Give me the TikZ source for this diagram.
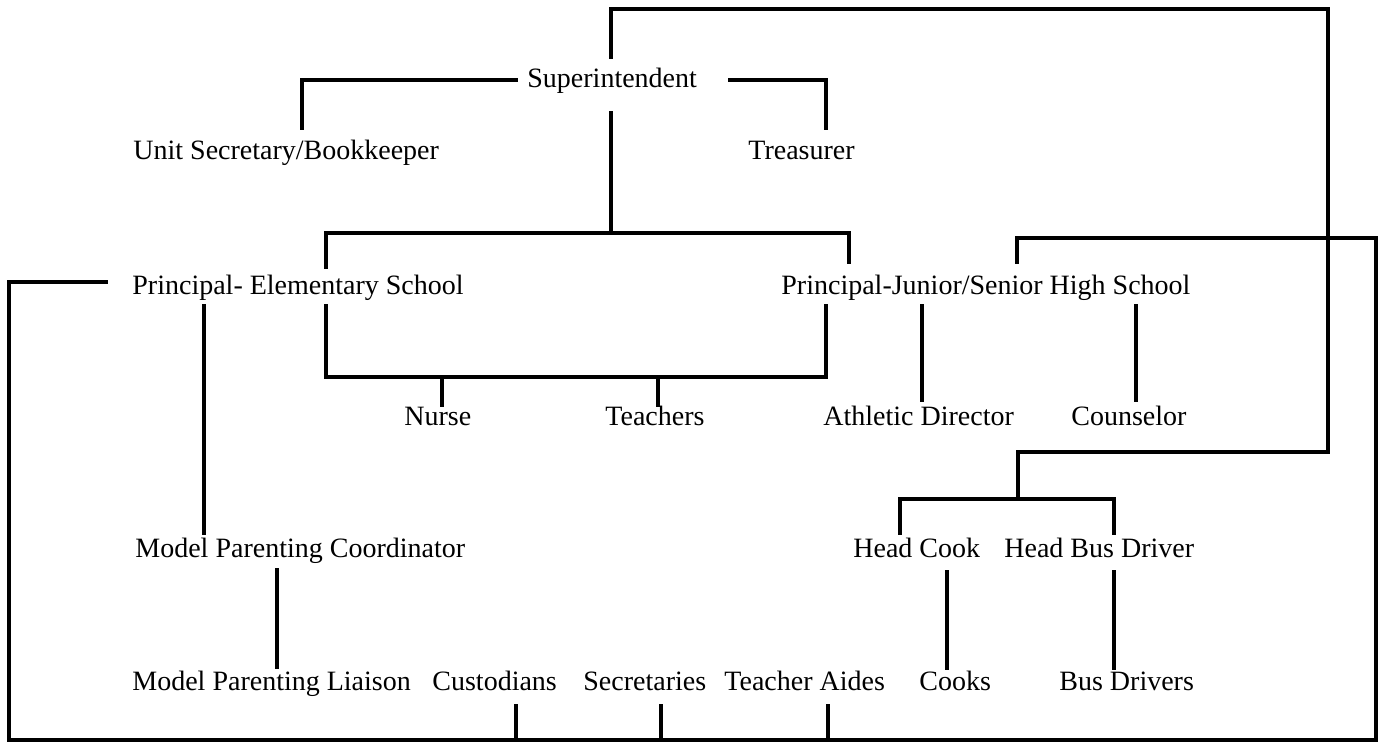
\documentclass[tikz,border=0pt]{standalone}
\usepackage{fontspec}
\setmainfont{Liberation Serif}
\begin{document}
\begin{tikzpicture}[x=0.5pt,y=-0.5pt,
  lbl/.style={inner sep=0pt, anchor=base west, font=\fontsize{14}{16}\selectfont},
  conn/.style={line width=1.8pt, line join=miter, line cap=rect}]
\useasboundingbox (0,0) rectangle (1382,743);
% labels
\node[lbl] (sup) at (527,88) {Superintendent};
\node[lbl] (unit) at (133,160) {Unit Secretary/Bookkeeper};
\node[lbl] (treas) at (748,160) {Treasurer};
\node[lbl] (pes) at (132,295) {Principal- Elementary School};
\node[lbl] (phs) at (781,295) {Principal-Junior/Senior High School};
\node[lbl] (nurse) at (404,425) {Nurse};
\node[lbl] (teach) at (605,425) {Teachers};
\node[lbl] (ath) at (823,425) {Athletic Director};
\node[lbl] (couns) at (1071,425) {Counselor};
\node[lbl] (mpc) at (135,557) {Model Parenting Coordinator};
\node[lbl] (hcook) at (853,557) {Head Cook};
\node[lbl] (hbus) at (1004,557) {Head Bus Driver};
\node[lbl] (mpl) at (132,690) {Model Parenting Liaison};
\node[lbl] (cust) at (432,690) {Custodians};
\node[lbl] (secr) at (583,690) {Secretaries};
\node[lbl] (aides) at (724,690) {Teacher Aides};
\node[lbl] (cooks) at (919,690) {Cooks};
\node[lbl] (bus) at (1059,690) {Bus Drivers};
% connector end points
\coordinate (supL) at (516,80);
\coordinate (unitT) at (302,128);
\coordinate (supR) at (730,80);
\coordinate (treasT) at (826,128);
\coordinate (supUp) at (611,57);
\coordinate (topR) at (1328,9);
\coordinate (kitchen) at (1018,452);
\coordinate (hcBar) at (1018,499);
\coordinate (hcookT) at (900,533);
\coordinate (hbusBar) at (1114,499);
\coordinate (hbusT) at (1114,533);
\coordinate (supDn) at (611,113);
\coordinate (pBar) at (611,233);
\coordinate (pesT) at (326,267);
\coordinate (pBarR) at (849,233);
\coordinate (phsT) at (849,262);
\coordinate (pesL) at (106,282);
\coordinate (frameBL) at (9,740);
\coordinate (frameR) at (1376,238);
\coordinate (phsT2) at (1017,262);
\coordinate (pesB) at (204,306);
\coordinate (mpcT) at (204,533);
\coordinate (mpcB) at (277,570);
\coordinate (mplT) at (277,667);
\coordinate (pesB2) at (326,306);
\coordinate (nBar) at (826,377);
\coordinate (phsB) at (826,306);
\coordinate (nurseBar) at (442,377);
\coordinate (nurseT) at (442,405);
\coordinate (teachBar) at (658,377);
\coordinate (teachT) at (658,405);
\coordinate (phsB2) at (922,306);
\coordinate (athT) at (922,400);
\coordinate (phsB3) at (1136,306);
\coordinate (counsT) at (1136,400);
\coordinate (hcookB) at (947,572);
\coordinate (cooksT) at (947,668);
\coordinate (hbusB) at (1114,572);
\coordinate (busT) at (1114,668);
\coordinate (custB) at (516,706);
\coordinate (custF) at (516,740);
\coordinate (secrB) at (661,706);
\coordinate (secrF) at (661,740);
\coordinate (aidesB) at (828,706);
\coordinate (aidesF) at (828,740);
% connectors
\draw[conn] (supL) -| (unitT);
\draw[conn] (supR) -| (treasT);
\draw[conn] (supUp) |- (topR) |- (kitchen) -- (hcBar);
\draw[conn] (hcookT) |- (hbusBar) -- (hbusT);
\draw[conn] (supDn) -- (pBar);
\draw[conn] (pesT) |- (pBarR) -- (phsT);
\draw[conn] (pesL) -| (frameBL) -| (frameR) -| (phsT2);
\draw[conn] (pesB) -- (mpcT);
\draw[conn] (mpcB) -- (mplT);
\draw[conn] (pesB2) |- (nBar) -- (phsB);
\draw[conn] (nurseBar) -- (nurseT);
\draw[conn] (teachBar) -- (teachT);
\draw[conn] (phsB2) -- (athT);
\draw[conn] (phsB3) -- (counsT);
\draw[conn] (hcookB) -- (cooksT);
\draw[conn] (hbusB) -- (busT);
\draw[conn] (custB) -- (custF);
\draw[conn] (secrB) -- (secrF);
\draw[conn] (aidesB) -- (aidesF);
\end{tikzpicture}
\end{document}
